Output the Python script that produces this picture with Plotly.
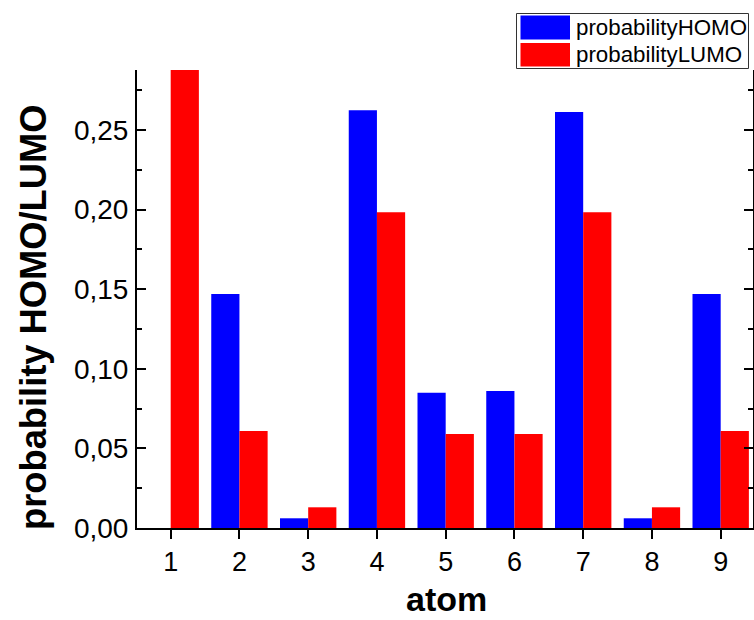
import plotly.graph_objects as go

# Per-atom orbital probabilities
atoms = [1, 2, 3, 4, 5, 6, 7, 8, 9]
homo = [0.0, 0.147, 0.0061, 0.2624, 0.085, 0.086, 0.2613, 0.0061, 0.147]
lumo = [0.290, 0.061, 0.013, 0.1983, 0.059, 0.059, 0.1983, 0.013, 0.061]
series_names = ["probabilityHOMO", "probabilityLUMO"]
series_colors = ["#0000FF", "#FF0000"]

W, H = 754, 620
L, R, T, B = 137, 1, 70, 92
FONT = "Liberation Sans, Arial, sans-serif"


def px_x(px):
    return (px - L) / (W - L - R)


def px_y(py):
    return (H - B - py) / (H - T - B)


fig = go.Figure()
for name, vals, col in zip(series_names, [homo, lumo], series_colors):
    fig.add_trace(go.Bar(x=atoms, y=vals, name=name, marker_color=col,
                         marker_line_width=0, showlegend=False))

xr = [0.51, 9.47]
fig.update_layout(
    width=W, height=H,
    margin=dict(l=L, r=R, t=T, b=B, pad=0, autoexpand=False),
    paper_bgcolor="white", plot_bgcolor="white",
    separators=",.",
    barmode="group", bargap=0.18, bargroupgap=0,
    font=dict(family=FONT, color="black"),
    xaxis=dict(
        range=xr, tickvals=atoms, ticktext=[str(a) for a in atoms],
        ticks="outside", ticklen=9, tickwidth=1.5, tickcolor="black",
        showline=True, linewidth=2, linecolor="black", showgrid=False,
        zeroline=False, tickfont=dict(size=27), automargin=False,
    ),
    xaxis2=dict(
        range=xr, tickvals=atoms, overlaying="x", side="top", anchor="y",
        ticks="inside", ticklen=9, tickwidth=1.5, tickcolor="black",
        showline=True, linewidth=2, linecolor="black", showgrid=False,
        showticklabels=False, zeroline=False, automargin=False,
    ),
    yaxis=dict(
        range=[0, 0.2877], tickvals=[0, 0.05, 0.10, 0.15, 0.20, 0.25],
        tickformat=".2f", ticks="inside", ticklen=9, tickwidth=1.5,
        tickcolor="black", showline=True, linewidth=2, linecolor="black",
        mirror="ticks", showgrid=False, zeroline=False, automargin=False,
        tickfont=dict(size=28), ticklabelstandoff=1,
        minor=dict(tickvals=[0.025, 0.075, 0.125, 0.175, 0.225, 0.275],
                   ticks="inside", ticklen=5, tickwidth=1.5, tickcolor="black"),
    ),
)

# Axis titles placed as annotations for exact positioning
annotations = [
    dict(xref="paper", yref="paper", x=px_x(33), y=px_y(318),
         text="<b>probability HOMO/LUMO</b>", textangle=-90,
         showarrow=False, xanchor="center", yanchor="middle",
         font=dict(size=36.3, family=FONT, color="black")),
    dict(xref="paper", yref="paper", x=px_x(446), y=px_y(599),
         text="<b>atom</b>", showarrow=False, xanchor="center",
         yanchor="middle", font=dict(size=34, family=FONT, color="black")),
]

# Legend box with wide colour swatches
shapes = [dict(type="rect", xref="paper", yref="paper",
               x0=px_x(516.5), x1=px_x(748.5), y0=px_y(68.5), y1=px_y(13.5),
               line=dict(color="#333333", width=1), fillcolor="white")]
rows = [(15.5, 39.5), (43, 66.5)]
for (ya, yb), name, col in zip(rows, series_names, series_colors):
    shapes.append(dict(type="rect", xref="paper", yref="paper",
                       x0=px_x(520.5), x1=px_x(570), y0=px_y(yb), y1=px_y(ya),
                       line=dict(width=0), fillcolor=col))
    annotations.append(dict(xref="paper", yref="paper", x=px_x(574),
                            y=px_y((ya + yb) / 2), text=name, showarrow=False,
                            xanchor="left", yanchor="middle",
                            font=dict(size=22.3, family=FONT, color="black")))
fig.update_layout(shapes=shapes, annotations=annotations)

fig.write_html("out.html")
